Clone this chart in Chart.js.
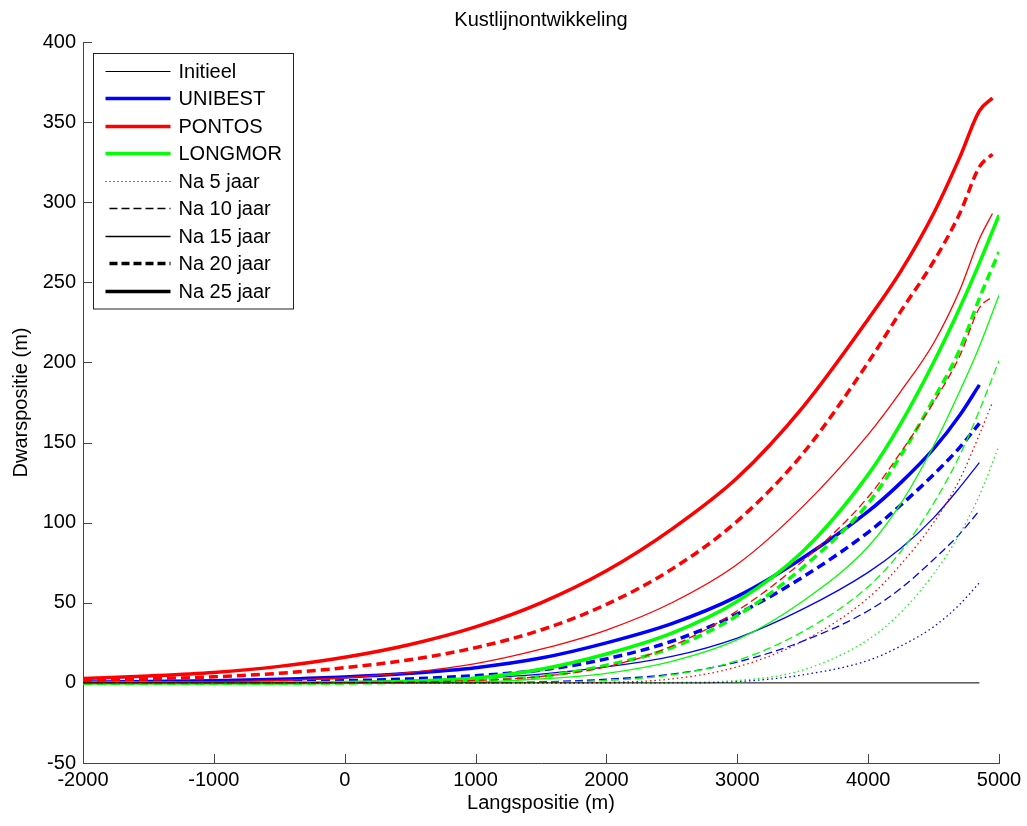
<!DOCTYPE html>
<html lang="nl">
<head>
<meta charset="UTF-8">
<title>Kustlijnontwikkeling</title>
<script src="https://cdn.jsdelivr.net/npm/chart.js"></script>
<style>
  html, body { margin: 0; padding: 0; background: #fff; }
  canvas { display: block; }
</style>
</head>
<body>
<canvas id="chart" width="1027" height="826"></canvas>
<script>
// tick values
const xTicks = [-2000, -1000, 0, 1000, 2000, 3000, 4000, 5000];
const yTicks = [-50, 0, 50, 100, 150, 200, 250, 300, 350, 400];

// langsposities per model (m)
const xInit    = [-2000, 4850];
const xUnibest = [-2000, -1500, -1000, -500, 0, 500, 1000, 1500, 2000, 2500, 3000, 3500, 4000, 4250, 4500, 4700, 4850];
const xPontos  = [-2000, -1500, -1000, -500, 0, 500, 1000, 1500, 2000, 2500, 3000, 3500, 4000, 4250, 4500, 4700, 4850, 4950];
const xLongmor = [-2000, -1500, -1000, -500, 0, 500, 1000, 1500, 2000, 2500, 3000, 3500, 4000, 4250, 4500, 4700, 4850, 5000];

// dwarsposities (m)
const initieel = [0, 0];

const unibest5  = [0, 0, 0, 0, 0, 0, 0, 0, 0, 0, 0.8, 5, 14, 23, 35, 49, 62.5];
const unibest10 = [0, 0, 0, 0, 0, 0, 0.1, 0.6, 2.3, 5.5, 13, 26, 45, 59, 77, 93, 107.5];
const unibest15 = [0, 0, 0, 0, 0.6, 1.5, 3, 5.5, 10, 16.5, 28, 46, 69, 84, 103, 122, 137.5];
const unibest20 = [0, 0, 0.2, 0.6, 1.3, 2.5, 4.5, 8, 15, 26, 43, 66, 94, 111, 130, 147, 162];
const unibest25 = [0.5, 0.8, 1.4, 2.3, 3.7, 6, 9.5, 15.5, 25, 37, 54, 78, 107, 125, 146, 167, 186];

const pontos5  = [0, 0, 0, 0, 0, 0, 0, 0, 0.3, 2.5, 10, 26, 53, 74, 100, 127, 155, 175];
const pontos10 = [0, 0, 0, 0, 0.2, 0.5, 1.5, 4, 10, 23, 45, 76, 116, 144, 175, 204, 234, 241];
const pontos15 = [0.2, 0.4, 0.8, 1.6, 3.2, 6.5, 12, 21, 33, 50, 74, 110, 155, 182, 212, 245, 277, 293];
const pontos20 = [1.5, 2.5, 3.8, 6, 9.5, 14.5, 22, 33, 49, 71, 101, 143, 200, 232, 263, 293, 322, 330];
const pontos25 = [2.7, 4.3, 6.5, 10.3, 16, 24, 35, 50, 70, 96, 128, 172, 227, 257, 293, 328, 357, 365];

const longmor5  = [0, 0, 0, 0, 0, 0, 0, 0, 0, 0.3, 1.5, 8, 27, 44, 68, 93, 117, 148];
const longmor10 = [0, 0, 0, 0, 0, 0, 0, 0.3, 1.5, 5, 14, 32, 60, 82, 112, 142, 170, 201];
const longmor15 = [0, 0, 0, 0, 0, 0, 0.5, 2.5, 6, 13.5, 27, 51, 85, 112, 148, 182, 210, 242];
const longmor20 = [0, 0, 0, 0, 0, 0.5, 1.5, 4, 11, 22, 42, 72, 112, 142, 177, 208, 240, 269];
const longmor25 = [0, 0, 0, 0, 0.3, 1, 3, 8.5, 18, 31, 51, 82, 130, 162, 200, 234, 262, 292];

const legendLabels = ['Initieel', 'UNIBEST', 'PONTOS', 'LONGMOR', 'Na 5 jaar', 'Na 10 jaar', 'Na 15 jaar', 'Na 20 jaar', 'Na 25 jaar'];

const BLUE = '#0000ff', RED = '#ff0000', GREEN = '#00ff00', BLACK = '#000000';

// line styles per tijdstap: 5, 10, 15, 20, 25 jaar
const styles = [
  { w: 1.3, dash: [1.5, 3] },
  { w: 1.3, dash: [8, 4] },
  { w: 1.3, dash: [] },
  { w: 3.5, dash: [9, 5] },
  { w: 3.5, dash: [] }
];

function pts(xs, ys) {
  return xs.map((x, i) => ({ x: x, y: ys[i] }));
}

function curve(xs, ys, color, s) {
  return {
    data: pts(xs, ys),
    borderColor: color,
    borderWidth: s.w,
    borderDash: s.dash,
    borderCapStyle: 'butt',
    pointRadius: 0,
    fill: false,
    cubicInterpolationMode: 'monotone'
  };
}

const datasets = [
  { data: pts(xInit, initieel), borderColor: BLACK, borderWidth: 1, pointRadius: 0, fill: false }
];
[[xPontos, [pontos5, pontos10, pontos15, pontos20, pontos25], RED],
 [xLongmor, [longmor5, longmor10, longmor15, longmor20, longmor25], GREEN],
 [xUnibest, [unibest5, unibest10, unibest15, unibest20, unibest25], BLUE]
].forEach(([xs, series, color]) => {
  series.forEach((ys, i) => datasets.push(curve(xs, ys, color, styles[i])));
});

// legend-only entries (carry the style shown in the box)
const legendStyles = [
  { c: BLACK, w: 1, dash: [] },
  { c: BLUE, w: 3.5, dash: [] },
  { c: RED, w: 3.5, dash: [] },
  { c: GREEN, w: 3.5, dash: [] },
  { c: BLACK, w: 1, dash: [1, 3] },
  { c: BLACK, w: 1.5, dash: [8, 4] },
  { c: BLACK, w: 1.3, dash: [] },
  { c: BLACK, w: 3.5, dash: [8, 4] },
  { c: BLACK, w: 3.5, dash: [] }
];
legendLabels.forEach((lab, i) => {
  datasets.push({ label: lab, legendOnly: true, data: [], borderColor: legendStyles[i].c,
    borderWidth: legendStyles[i].w, borderDash: legendStyles[i].dash });
});

const FONT = '"Liberation Sans", Arial, sans-serif';

const decor = {
  id: 'decor',
  afterDraw(chart) {
    const { ctx, chartArea: a, scales: { x, y } } = chart;
    ctx.save();

    // inward tick marks
    ctx.strokeStyle = '#444';
    ctx.lineWidth = 1;
    ctx.setLineDash([]);
    ctx.beginPath();
    xTicks.forEach(v => {
      const px = Math.round(x.getPixelForValue(v)) + 0.5;
      ctx.moveTo(px, a.bottom);
      ctx.lineTo(px, a.bottom - 9);
    });
    yTicks.forEach(v => {
      const py = Math.round(y.getPixelForValue(v)) + 0.5;
      ctx.moveTo(a.left, py);
      ctx.lineTo(a.left + 9, py);
    });
    ctx.stroke();

    // title
    ctx.fillStyle = '#000';
    ctx.font = '20px ' + FONT;
    ctx.textAlign = 'center';
    ctx.textBaseline = 'alphabetic';
    ctx.fillText('Kustlijnontwikkeling', (a.left + a.right) / 2, 26);

    // legend box
    const items = chart.data.datasets.filter(d => d.legendOnly);
    const bx = a.left + 10.5, by = a.top + 11.5, bw = 200, rowH = 27.5;
    const bh = items.length * rowH + 8;
    ctx.fillStyle = '#fff';
    ctx.fillRect(bx, by, bw, bh);
    ctx.strokeStyle = '#222';
    ctx.lineWidth = 1;
    ctx.strokeRect(bx, by, bw, bh);
    ctx.textAlign = 'left';
    ctx.textBaseline = 'middle';
    items.forEach((d, i) => {
      const cy = Math.round(by + 17 + i * rowH) + 0.5;
      ctx.beginPath();
      ctx.strokeStyle = d.borderColor;
      ctx.lineWidth = d.borderWidth;
      ctx.setLineDash(d.borderDash);
      ctx.lineCap = 'butt';
      const dashed = d.borderDash.length && d.borderDash[0] > 2;
      ctx.moveTo(bx + (dashed ? 16 : 12), cy);
      ctx.lineTo(bx + 77, cy);
      ctx.stroke();
      ctx.setLineDash([]);
      ctx.fillStyle = '#000';
      ctx.fillText(d.label, bx + 85, cy + 1);
    });
    ctx.restore();
  }
};

new Chart(document.getElementById('chart'), {
  type: 'line',
  data: { datasets: datasets },
  options: {
    responsive: false,
    animation: false,
    devicePixelRatio: 1,
    layout: { padding: { top: 42, right: 28, left: 0, bottom: 0 } },
    plugins: {
      legend: { display: false },
      title: { display: false },
      tooltip: { enabled: false }
    },
    scales: {
      x: {
        type: 'linear',
        min: -2000,
        max: 5000,
        afterFit: s => { s.height = 63; },
        afterBuildTicks: s => { s.ticks = xTicks.map(v => ({ value: v })); },
        ticks: { color: '#000', padding: 5, maxRotation: 0, callback: v => String(v), font: { size: 20, family: FONT } },
        grid: { drawOnChartArea: false, drawTicks: false },
        border: { display: true, color: '#444', width: 1 },
        title: { display: true, text: 'Langspositie (m)', color: '#000', padding: { top: 0, bottom: 11 }, font: { size: 20, family: FONT } }
      },
      y: {
        type: 'linear',
        min: -50,
        max: 400,
        afterFit: s => { s.width = 83; },
        afterBuildTicks: s => { s.ticks = yTicks.map(v => ({ value: v })); },
        ticks: { color: '#000', padding: 7, callback: v => String(v), font: { size: 20, family: FONT } },
        grid: { drawOnChartArea: false, drawTicks: false },
        border: { display: true, color: '#444', width: 1 },
        title: { display: true, text: 'Dwarspositie (m)', color: '#000', padding: { top: 9, bottom: 0 }, font: { size: 20, family: FONT } }
      }
    }
  },
  plugins: [decor]
});
</script>
</body>
</html>
